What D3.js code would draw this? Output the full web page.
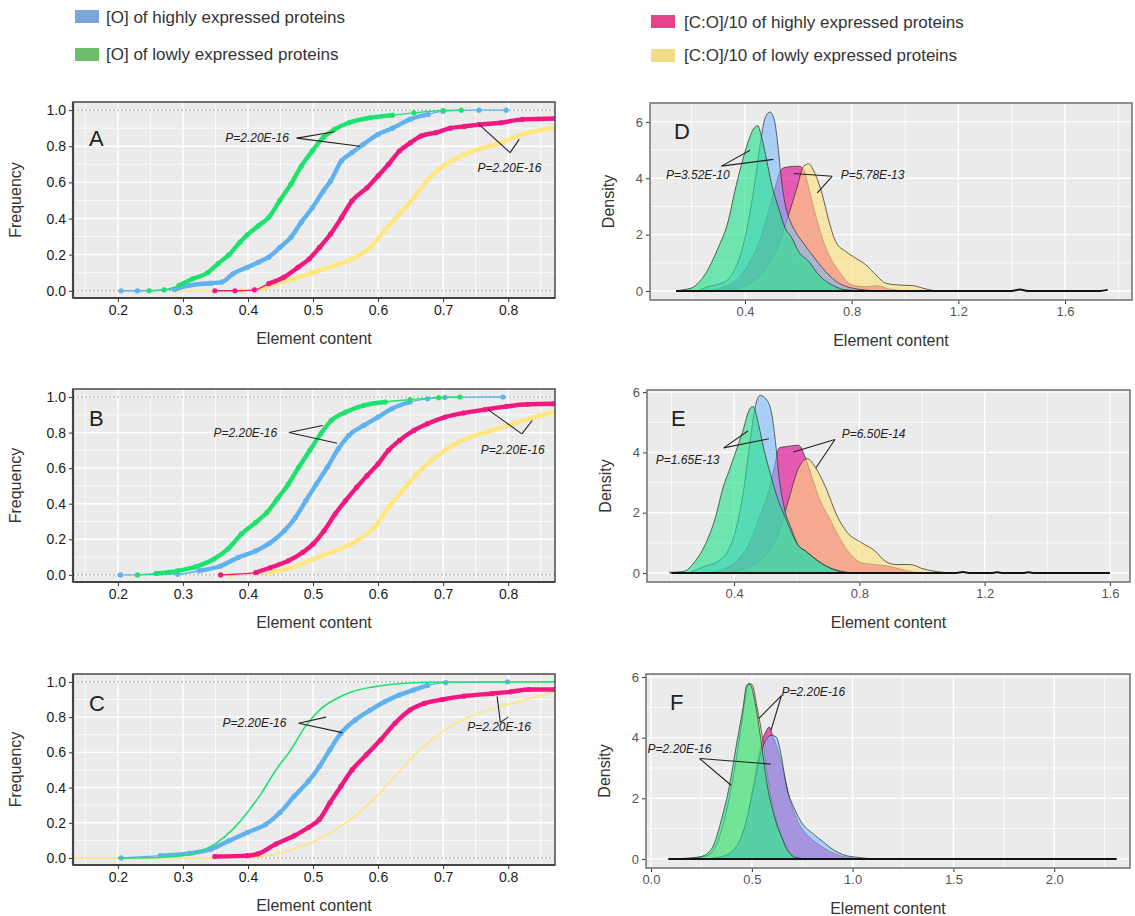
<!DOCTYPE html>
<html><head><meta charset="utf-8">
<script src="https://cdn.jsdelivr.net/npm/d3@7"></script>
<style>body{margin:0;background:#fff} svg{display:block} text{font-family:"Liberation Sans",Arial,sans-serif}</style>
</head><body><svg id="c" width="1135" height="916"></svg>
<script>
// ---------------- DATA ----------------
const seriesKeys = ["highO","lowO","highCO","lowCO"];
const legendLabels = ["[O] of highly expressed proteins","[O] of lowly expressed proteins","[C:O]/10 of highly expressed proteins","[C:O]/10 of lowly expressed proteins"];
const ecdfXTicks = [0.2,0.3,0.4,0.5,0.6,0.7,0.8];
const ecdfYTicks = [0,0.2,0.4,0.6,0.8,1.0];
const ecdfXDomain = [0.131,0.872];
const ecdfYDomain = [-0.04,1.045];
const densYTicks = [0,2,4,6];
const densXTicksD = [0.4,0.8,1.2,1.6];
const densXTicksE = [0.4,0.8,1.2,1.6];
const densXTicksF = [0,0.5,1.0,1.5,2.0];
const densXDomainD = [0.044,1.851], densYDomainD = [-0.32,6.67];
const densXDomainE = [0.122,1.664], densYDomainE = [-0.3,6.07];
const densXDomainF = [-0.025,2.376], densYDomainF = [-0.3,6.1];

// Panel A (ECDF)
const A_highO = [[0.205,0],[0.23,0],[0.287,0.007],[0.31,0.03],[0.343,0.042],[0.36,0.048],[0.377,0.094],[0.399,0.13],[0.416,0.158],[0.432,0.186],[0.449,0.24],[0.466,0.296],[0.482,0.38],[0.499,0.46],[0.516,0.553],[0.527,0.608],[0.544,0.72],[0.56,0.765],[0.577,0.81],[0.6,0.866],[0.622,0.9],[0.65,0.95],[0.677,0.976],[0.7,0.994],[0.755,1.0],[0.797,1.0]];
const A_lowO = [[0.248,0],[0.271,0.005],[0.294,0.03],[0.315,0.066],[0.338,0.1],[0.354,0.15],[0.371,0.2],[0.388,0.27],[0.399,0.31],[0.416,0.36],[0.432,0.406],[0.449,0.5],[0.466,0.59],[0.482,0.69],[0.499,0.774],[0.516,0.85],[0.533,0.893],[0.555,0.93],[0.588,0.958],[0.622,0.972],[0.655,0.985],[0.7,0.998],[0.728,1.0]];
const A_highCO = [[0.349,0],[0.38,0],[0.41,0.005],[0.432,0.04],[0.455,0.075],[0.477,0.13],[0.494,0.176],[0.51,0.24],[0.527,0.314],[0.544,0.406],[0.56,0.498],[0.583,0.57],[0.6,0.636],[0.616,0.7],[0.633,0.774],[0.65,0.82],[0.666,0.857],[0.689,0.875],[0.711,0.9],[0.733,0.91],[0.755,0.92],[0.789,0.93],[0.822,0.949],[0.872,0.954]];
const A_lowCO = [[0.287,0],[0.39,0.002],[0.421,0.01],[0.443,0.04],[0.471,0.066],[0.499,0.1],[0.533,0.14],[0.56,0.176],[0.588,0.24],[0.61,0.333],[0.633,0.425],[0.655,0.516],[0.677,0.618],[0.7,0.69],[0.722,0.737],[0.755,0.783],[0.789,0.82],[0.822,0.866],[0.875,0.906]];
// Panel B (ECDF)
const B_highO = [[0.204,0],[0.292,0.004],[0.325,0.023],[0.358,0.05],[0.385,0.098],[0.412,0.135],[0.434,0.18],[0.456,0.248],[0.473,0.323],[0.489,0.417],[0.505,0.51],[0.522,0.605],[0.539,0.709],[0.555,0.784],[0.578,0.84],[0.6,0.887],[0.621,0.934],[0.649,0.972],[0.676,0.99],[0.703,0.998],[0.792,1.0]];
const B_lowO = [[0.23,0],[0.259,0.008],[0.292,0.023],[0.319,0.045],[0.347,0.088],[0.369,0.145],[0.39,0.23],[0.412,0.295],[0.429,0.35],[0.445,0.427],[0.462,0.51],[0.478,0.605],[0.495,0.7],[0.512,0.793],[0.528,0.868],[0.55,0.915],[0.578,0.953],[0.611,0.972],[0.649,0.985],[0.693,0.996],[0.726,1.0]];
const B_highCO = [[0.358,0],[0.412,0.013],[0.434,0.04],[0.462,0.079],[0.484,0.126],[0.5,0.173],[0.517,0.248],[0.534,0.342],[0.55,0.417],[0.567,0.492],[0.583,0.558],[0.6,0.624],[0.616,0.7],[0.633,0.756],[0.655,0.812],[0.676,0.85],[0.703,0.887],[0.731,0.91],[0.764,0.929],[0.797,0.947],[0.83,0.959],[0.869,0.962]];
const B_lowCO = [[0.374,0],[0.434,0.013],[0.467,0.04],[0.5,0.088],[0.533,0.135],[0.567,0.19],[0.594,0.267],[0.616,0.38],[0.638,0.474],[0.66,0.568],[0.682,0.643],[0.71,0.718],[0.742,0.774],[0.775,0.812],[0.808,0.85],[0.841,0.887],[0.871,0.915]];
// Panel C (ECDF)
const C_highO = [[0.205,0],[0.265,0.013],[0.31,0.026],[0.343,0.05],[0.371,0.098],[0.399,0.145],[0.427,0.19],[0.449,0.257],[0.471,0.35],[0.493,0.436],[0.51,0.52],[0.526,0.615],[0.543,0.709],[0.565,0.784],[0.588,0.84],[0.61,0.887],[0.632,0.925],[0.654,0.953],[0.676,0.98],[0.704,0.996],[0.799,1.0]];
const C_lowO = [[0.2,0],[0.232,0],[0.288,0.008],[0.321,0.032],[0.349,0.079],[0.377,0.164],[0.399,0.258],[0.421,0.37],[0.443,0.5],[0.466,0.615],[0.488,0.746],[0.51,0.84],[0.532,0.897],[0.56,0.944],[0.593,0.972],[0.632,0.99],[0.676,0.998],[0.872,1.0]];
const C_highCO = [[0.349,0.008],[0.399,0.013],[0.415,0.023],[0.443,0.079],[0.471,0.126],[0.493,0.173],[0.51,0.22],[0.526,0.314],[0.543,0.408],[0.56,0.5],[0.582,0.586],[0.604,0.671],[0.626,0.765],[0.649,0.84],[0.671,0.878],[0.699,0.9],[0.732,0.919],[0.776,0.934],[0.804,0.944],[0.832,0.957],[0.872,0.957]];
const C_lowCO = [[0.131,0],[0.343,0],[0.41,0.004],[0.454,0.032],[0.498,0.088],[0.532,0.154],[0.565,0.239],[0.598,0.351],[0.626,0.464],[0.654,0.577],[0.682,0.671],[0.715,0.756],[0.748,0.812],[0.787,0.859],[0.826,0.897],[0.872,0.944]];

// Panel D (density)
const D_lowO = [[0.142,0],[0.17,0.05],[0.198,0.1],[0.249,0.57],[0.299,1.52],[0.337,2.47],[0.362,3.54],[0.387,4.49],[0.413,5.32],[0.431,5.74],[0.448,5.86],[0.463,5.44],[0.482,4.61],[0.5,3.78],[0.526,2.95],[0.551,2.23],[0.576,1.88],[0.601,1.4],[0.639,1.05],[0.677,0.57],[0.727,0.21],[0.778,0.04],[0.853,0]];
const D_highO = [[0.224,0],[0.261,0.15],[0.312,0.27],[0.35,0.57],[0.387,1.4],[0.413,2.47],[0.438,3.9],[0.457,5.2],[0.476,6.15],[0.494,6.35],[0.511,6.03],[0.523,5.2],[0.536,4.01],[0.551,3.06],[0.57,2.47],[0.589,2.11],[0.614,1.76],[0.652,1.28],[0.702,0.69],[0.753,0.27],[0.828,0.06],[0.916,0]];
const D_highCO = [[0.261,0],[0.324,0.15],[0.375,0.45],[0.425,1.16],[0.463,2.0],[0.488,2.83],[0.513,3.66],[0.532,4.25],[0.551,4.39],[0.602,4.43],[0.62,4.31],[0.639,3.66],[0.664,2.71],[0.69,1.88],[0.715,1.28],[0.753,0.69],[0.803,0.21],[0.853,0.15],[0.891,0.19],[0.942,0.07],[1.0,0]];
const D_lowCO = [[0.299,0],[0.375,0.1],[0.438,0.39],[0.488,0.93],[0.526,1.64],[0.564,2.71],[0.595,3.66],[0.62,4.43],[0.639,4.51],[0.664,4.13],[0.69,3.42],[0.715,2.47],[0.74,1.76],[0.778,1.4],[0.816,1.16],[0.853,0.93],[0.891,0.57],[0.929,0.27],[0.979,0.21],[1.03,0.19],[1.067,0.1],[1.105,0.02],[1.156,0]];
const D_base = [[0.142,0],[1.40,0],[1.43,0.05],[1.46,0],[1.73,0],[1.76,0.04]];
// Panel E (density)
const E_lowO = [[0.194,0.02],[0.239,0.05],[0.272,0.34],[0.306,0.9],[0.339,1.79],[0.367,2.91],[0.383,3.36],[0.406,4.04],[0.428,4.71],[0.45,5.44],[0.461,5.52],[0.478,4.93],[0.494,4.15],[0.517,3.25],[0.539,2.47],[0.561,1.91],[0.583,1.35],[0.606,0.9],[0.628,0.73],[0.661,0.45],[0.706,0.17],[0.75,0.02],[0.783,0]];
const E_highO = [[0.261,0.02],[0.306,0.22],[0.35,0.39],[0.383,0.78],[0.406,1.46],[0.428,2.58],[0.45,4.26],[0.467,5.49],[0.483,5.89],[0.506,5.72],[0.522,5.16],[0.533,4.26],[0.544,3.14],[0.561,2.13],[0.583,1.46],[0.606,0.9],[0.628,0.73],[0.661,0.45],[0.694,0.22],[0.739,0.06],[0.783,0]];
const E_highCO = [[0.306,0],[0.361,0.11],[0.406,0.39],[0.45,1.01],[0.483,1.91],[0.506,2.58],[0.528,3.48],[0.544,4.15],[0.572,4.2],[0.606,4.24],[0.628,3.81],[0.65,3.14],[0.672,2.47],[0.706,1.79],[0.739,1.12],[0.772,0.62],[0.806,0.34],[0.85,0.28],[0.894,0.22],[0.939,0.11],[0.983,0.02],[1.05,0]];
const E_lowCO = [[0.383,0],[0.439,0.17],[0.494,0.5],[0.539,1.23],[0.572,2.35],[0.606,3.48],[0.633,3.79],[0.661,3.48],[0.694,2.8],[0.728,1.91],[0.761,1.35],[0.806,1.01],[0.85,0.73],[0.883,0.39],[0.917,0.28],[0.961,0.28],[1.006,0.13],[1.05,0.04],[1.094,0]];
const E_base = [[0.2,0],[1.11,0],[1.13,0.03],[1.15,0],[1.22,0],[1.24,0.02],[1.26,0],[1.32,0],[1.34,0.02],[1.36,0],[1.6,0]];
// Panel F (density)
const F_lowO = [[0.086,0],[0.181,0.02],[0.25,0.08],[0.302,0.35],[0.353,1.39],[0.388,2.38],[0.422,3.7],[0.457,5.01],[0.474,5.72],[0.491,5.76],[0.517,5.12],[0.543,4.02],[0.578,2.38],[0.612,1.39],[0.647,0.73],[0.681,0.24],[0.716,0.05],[0.767,0]];
const F_lowCO = [[0.112,0],[0.267,0.08],[0.319,0.4],[0.371,1.5],[0.405,2.6],[0.44,4.02],[0.466,5.23],[0.483,5.78],[0.5,5.76],[0.526,5.01],[0.552,4.02],[0.586,2.38],[0.621,1.28],[0.655,0.63],[0.69,0.19],[0.733,0.03],[0.784,0]];
const F_highO = [[0.267,0],[0.353,0.08],[0.422,0.4],[0.474,1.28],[0.509,2.38],[0.543,3.48],[0.569,3.91],[0.595,4.08],[0.621,4.02],[0.647,3.37],[0.672,2.38],[0.707,1.72],[0.75,1.17],[0.802,0.84],[0.853,0.57],[0.905,0.3],[0.957,0.13],[1.026,0.05],[1.112,0]];
const F_highCO = [[0.25,0],[0.353,0.05],[0.422,0.35],[0.474,1.28],[0.509,2.49],[0.543,3.7],[0.569,4.19],[0.586,4.35],[0.603,4.08],[0.629,3.59],[0.655,2.93],[0.69,1.94],[0.733,1.17],[0.784,0.73],[0.836,0.46],[0.888,0.24],[0.94,0.1],[1.009,0.02],[1.078,0]];
const F_base = [[0.086,0],[2.31,0]];

// P-value annotations (text anchor + leader lines, data units)
const annA = [{t:"P=2.20E-16",x:0.365,y:0.847,lines:[[[0.475,0.845],[0.533,0.88]],[[0.475,0.845],[0.572,0.8]]]},{t:"P=2.20E-16",x:0.753,y:0.682,lines:[[[0.755,0.921],[0.803,0.765]],[[0.803,0.765],[0.817,0.838]]]}];
const annB = [{t:"P=2.20E-16",x:0.347,y:0.8,lines:[[[0.463,0.8],[0.515,0.84]],[[0.463,0.8],[0.537,0.74]]]},{t:"P=2.20E-16",x:0.758,y:0.7,lines:[[[0.769,0.929],[0.821,0.793]],[[0.821,0.793],[0.837,0.868]]]}];
const annC = [{t:"P=2.20E-16",x:0.361,y:0.765,lines:[[[0.478,0.765],[0.52,0.8]],[[0.478,0.765],[0.545,0.712]]]},{t:"P=2.20E-16",x:0.737,y:0.746,lines:[[[0.783,0.918],[0.788,0.77]],[[0.788,0.77],[0.8,0.8]]]}];
const annD = [{t:"P=3.52E-10",x:0.104,y:4.11,lines:[[[0.312,4.43],[0.419,4.99]],[[0.312,4.43],[0.507,4.67]]]},{t:"P=5.78E-13",x:0.759,y:4.13,lines:[[[0.727,4.07],[0.583,4.17]],[[0.727,4.07],[0.671,3.48]]]}];
const annE = [{t:"P=1.65E-13",x:0.15,y:3.76,lines:[[[0.367,4.15],[0.444,4.71]],[[0.367,4.15],[0.511,4.45]]]},{t:"P=6.50E-14",x:0.744,y:4.6,lines:[[[0.722,4.43],[0.589,4.01]],[[0.722,4.43],[0.661,3.48]]]}];
const annF = [{t:"P=2.20E-16",x:0.647,y:5.5,lines:[[[0.647,5.39],[0.534,4.63]],[[0.647,5.39],[0.595,4.24]]]},{t:"P=2.20E-16",x:-0.017,y:3.64,lines:[[[0.241,3.31],[0.397,2.43]],[[0.241,3.31],[0.595,3.13]]]}];

// ---------------- DRAWING ----------------
const svg = d3.select("#c");
const LINE = {highO:"#5fb2ef",lowO:"#1fe26e",highCO:"#f1187f",lowCO:"#ffe680"};
const FILL = {highO:"#7fbdfb",lowO:"#22e28c",highCO:"#e2289e",lowCO:"#ffe07a"};
const FOP  = {highO:0.6,lowO:0.62,highCO:0.75,lowCO:0.6};
const LEG  = {highO:"#7aa7d8",lowO:"#6cbe6b",highCO:"#e7418a",lowCO:"#f3dc88"};
let clipN = 0;

// legend
const legPos = [{x:75,y:10,tx:106,ty:23},{x:75,y:48,tx:106,ty:60},{x:651,y:15,tx:684,ty:28},{x:651,y:49,tx:684,ty:61}];
seriesKeys.forEach((k,i)=>{
  const p = legPos[i];
  svg.append("rect").attr("x",p.x).attr("y",p.y).attr("width",24).attr("height",13).attr("fill",LEG[k]);
  svg.append("text").attr("x",p.tx).attr("y",p.ty).attr("font-size",17).attr("fill","#333").text(legendLabels[i]);
});

function frame(p, x, y, xTicks, yTicks, xMinor, yMinor){
  const g = svg.append("g");
  g.append("rect").attr("x",p.l).attr("y",p.t).attr("width",p.r-p.l).attr("height",p.b-p.t).attr("fill","#ebebeb");
  xMinor.forEach(v=>g.append("line").attr("x1",x(v)).attr("x2",x(v)).attr("y1",p.t).attr("y2",p.b).attr("stroke","#fff").attr("stroke-width",0.8));
  yMinor.forEach(v=>g.append("line").attr("y1",y(v)).attr("y2",y(v)).attr("x1",p.l).attr("x2",p.r).attr("stroke","#fff").attr("stroke-width",0.8));
  xTicks.forEach(v=>g.append("line").attr("x1",x(v)).attr("x2",x(v)).attr("y1",p.t).attr("y2",p.b).attr("stroke","#fff").attr("stroke-width",1.4));
  yTicks.forEach(v=>g.append("line").attr("y1",y(v)).attr("y2",y(v)).attr("x1",p.l).attr("x2",p.r).attr("stroke","#fff").attr("stroke-width",1.4));
  const id = "clip"+(clipN++);
  svg.append("clipPath").attr("id",id).append("rect").attr("x",p.l).attr("y",p.t).attr("width",p.r-p.l).attr("height",p.b-p.t);
  return svg.append("g").attr("clip-path",`url(#${id})`);
}

function axes(p, x, y, xTicks, yTicks, fmtX, fmtY, left, tickCol, tickSize){
  const gx = svg.append("g").attr("transform",`translate(0,${p.b})`)
    .call(d3.axisBottom(x).tickValues(xTicks).tickFormat(fmtX).tickSize(4).tickPadding(3));
  const gy = svg.append("g").attr("transform",`translate(${p.l},0)`)
    .call(d3.axisLeft(y).tickValues(yTicks).tickFormat(fmtY).tickSize(4).tickPadding(3));
  [gx,gy].forEach(g=>{
    g.select(".domain").remove();
    g.selectAll(".tick line").attr("stroke","#333");
    g.selectAll(".tick text").attr("fill",tickCol).attr("font-size",tickSize).attr("font-family",'"Liberation Sans",Arial,sans-serif');
  });
  svg.append("rect").attr("x",p.l).attr("y",p.t).attr("width",p.r-p.l).attr("height",p.b-p.t)
    .attr("fill","none").attr("stroke",left?"#555":"#777").attr("stroke-width",1.6);
  if(left){
    svg.append("line").attr("x1",p.l).attr("x2",p.l).attr("y1",p.t).attr("y2",p.b).attr("stroke","#444").attr("stroke-width",2.2);
    svg.append("line").attr("x1",p.l).attr("x2",p.r).attr("y1",p.b).attr("y2",p.b).attr("stroke","#444").attr("stroke-width",2.2);
  }
}

function annotate(g, x, y, list){
  list.forEach(a=>{
    a.lines.forEach(l=>g.append("line").attr("x1",x(l[0][0])).attr("y1",y(l[0][1])).attr("x2",x(l[1][0])).attr("y2",y(l[1][1]))
      .attr("stroke","#222").attr("stroke-width",1.1));
    g.append("text").attr("x",x(a.x)).attr("y",y(a.y)+4).attr("font-size",12).attr("font-style","italic").attr("fill","#222").text(a.t);
  });
}

function ecdfPanel(p, data, thin, ann, letter, letterDy){
  const x = d3.scaleLinear().domain(ecdfXDomain).range([p.l,p.r]);
  const y = d3.scaleLinear().domain(ecdfYDomain).range([p.b,p.t]);
  const xMinor = [0.15,0.25,0.35,0.45,0.55,0.65,0.75,0.85];
  const yMinor = [0.1,0.3,0.5,0.7,0.9];
  const g = frame(p,x,y,ecdfXTicks,ecdfYTicks,xMinor,yMinor);
  [0,1].forEach(v=>g.append("line").attr("x1",p.l).attr("x2",p.r).attr("y1",y(v)).attr("y2",y(v))
     .attr("stroke","#9a9a9a").attr("stroke-width",1).attr("stroke-dasharray","2,2"));
  const line = d3.line().x(d=>x(d[0])).y(d=>y(d[1])).curve(d3.curveMonotoneX);
  ["lowCO","highCO","highO","lowO"].forEach(k=>{
    const d = data[k];
    if(thin.includes(k)){
      g.append("path").attr("d",line(d)).attr("fill","none").attr("stroke",LINE[k]).attr("stroke-width",1.6);
    } else {
      g.append("path").attr("d",line(d)).attr("fill","none").attr("stroke",LINE[k]).attr("stroke-width",1.3);
      const dense = d.filter(v=>v[1]>0.005 && v[1]<0.985);
      g.append("path").attr("d",line(dense)).attr("fill","none").attr("stroke",LINE[k]).attr("stroke-width",4.4).attr("stroke-linecap","round");
      g.selectAll(null).data(d).enter().append("circle").attr("cx",v=>x(v[0])).attr("cy",v=>y(v[1])).attr("r",2.6).attr("fill",LINE[k]);
    }
  });
  annotate(g,x,y,ann);
  svg.append("text").attr("x",p.l+16).attr("y",p.t+letterDy).attr("font-size",22).attr("fill","#222").text(letter);
  axes(p,x,y,ecdfXTicks,ecdfYTicks,d3.format(".1f"),d3.format(".1f"),true,"#1a1a1a",14);
  svg.append("text").attr("transform",`translate(21,${(p.t+p.b)/2}) rotate(-90)`).attr("text-anchor","middle")
    .attr("font-size",16).attr("fill","#333").text("Frequency");
  svg.append("text").attr("x",(p.l+p.r)/2).attr("y",p.b+46).attr("text-anchor","middle").attr("font-size",16).attr("fill","#333").text("Element content");
}

function densPanel(p, xd, yd, xTicks, data, base, ann, letter, fmtX){
  const x = d3.scaleLinear().domain(xd).range([p.l,p.r]);
  const y = d3.scaleLinear().domain(yd).range([p.b,p.t]);
  const step = xTicks[1]-xTicks[0];
  const xMinor = d3.range(xTicks[0]-step/2, xd[1], step).filter(v=>v>xd[0]);
  const g = frame(p,x,y,xTicks,densYTicks,xMinor,[1,3,5]);
  const area = d3.area().x(d=>x(d[0])).y0(y(0)).y1(d=>y(d[1])).curve(d3.curveMonotoneX);
  ["highCO","lowCO","highO","lowO"].forEach(k=>{
    g.append("path").attr("d",area(data[k])).attr("fill",FILL[k]).attr("fill-opacity",FOP[k])
      .attr("stroke","#333").attr("stroke-opacity",0.75).attr("stroke-width",1);
  });
  g.append("path").attr("d",d3.line().x(d=>x(d[0])).y(d=>y(d[1])).curve(d3.curveMonotoneX)(base))
    .attr("fill","none").attr("stroke","#111").attr("stroke-width",2);
  annotate(g,x,y,ann);
  svg.append("text").attr("x",p.l+24).attr("y",p.t+36).attr("font-size",22).attr("fill","#222").text(letter);
  axes(p,x,y,xTicks,densYTicks,fmtX,d3.format("d"),false,"#555",13);
  svg.append("text").attr("transform",`translate(${p.l-36},${(p.t+p.b)/2}) rotate(-90)`).attr("text-anchor","middle")
    .attr("font-size",16).attr("fill","#333").text("Density");
  svg.append("text").attr("x",(p.l+p.r)/2).attr("y",p.b+46).attr("text-anchor","middle").attr("font-size",16).attr("fill","#333").text("Element content");
}

ecdfPanel({l:73,r:555,t:102,b:298},{highO:A_highO,lowO:A_lowO,highCO:A_highCO,lowCO:A_lowCO},[],annA,"A",44);
ecdfPanel({l:73,r:555,t:389,b:582},{highO:B_highO,lowO:B_lowO,highCO:B_highCO,lowCO:B_lowCO},[],annB,"B",37);
ecdfPanel({l:73,r:555,t:674,b:865},{highO:C_highO,lowO:C_lowO,highCO:C_highCO,lowCO:C_lowCO},["lowO","lowCO"],annC,"C",37);
densPanel({l:650,r:1132,t:103,b:300},densXDomainD,densYDomainD,densXTicksD,{highO:D_highO,lowO:D_lowO,highCO:D_highCO,lowCO:D_lowCO},D_base,annD,"D",d3.format(".1f"));
densPanel({l:647,r:1130,t:390,b:582},densXDomainE,densYDomainE,densXTicksE,{highO:E_highO,lowO:E_lowO,highCO:E_highCO,lowCO:E_lowCO},E_base,annE,"E",d3.format(".1f"));
densPanel({l:646,r:1130,t:674,b:868},densXDomainF,densYDomainF,densXTicksF,{highO:F_highO,lowO:F_lowO,highCO:F_highCO,lowCO:F_lowCO},F_base,annF,"F",d3.format(".1f"));
</script></body></html>
